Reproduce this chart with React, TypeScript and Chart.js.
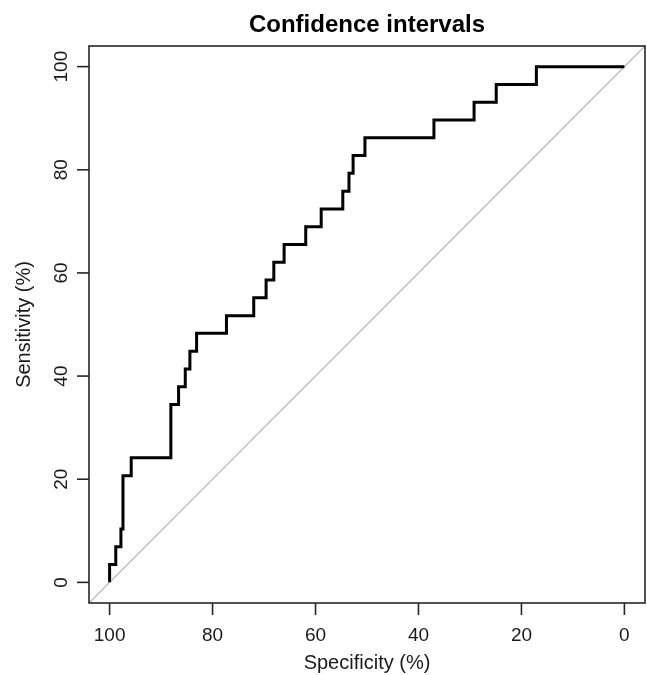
import React, { useEffect, useRef } from "react";
import { Chart, registerables } from "chart.js";

Chart.register(...registerables);

// ROC points (specificity %, sensitivity %) — drawn as a step curve
const specificity = [100, 98.8, 97.8, 97.4, 95.8, 88.1, 86.6, 85.3, 84.4, 83.1, 77.3, 72.0, 69.6, 68.1, 66.1, 61.9, 58.9, 54.7, 53.5, 52.7, 50.4, 37.0, 29.2, 24.9, 17.1, 0];
const sensitivity = [0, 3.45, 6.9, 10.34, 20.69, 24.14, 34.48, 37.93, 41.38, 44.83, 48.28, 51.72, 55.17, 58.62, 62.07, 65.52, 68.97, 72.41, 75.86, 79.31, 82.76, 86.21, 89.66, 93.1, 96.55, 100];

// chance diagonal (spans the whole plotting box)
const diagonalX = [104, -4];
const diagonalY = [-4, 104];

const xTicks = [100, 80, 60, 40, 20, 0];
const yTicks = [0, 20, 40, 60, 80, 100];

const titleText = "Confidence intervals";
const xTitle = "Specificity (%)";
const yTitle = "Sensitivity (%)";

const FONT = '"Liberation Sans", Arial, sans-serif';

export default function App() {
  const ref = useRef<HTMLCanvasElement>(null);

  useEffect(() => {
    document.body.style.margin = "0";
    const canvas = ref.current;
    if (!canvas) return;

    const axesPlugin = {
      id: "rAxes",
      afterDraw(chart: any) {
        const { ctx, chartArea } = chart;
        const xs = chart.scales.x;
        const ys = chart.scales.y;
        const { left, right, top, bottom } = chartArea;
        ctx.save();
        ctx.strokeStyle = "#262626";
        ctx.fillStyle = "#1a1a1a";
        ctx.lineWidth = 1.6;
        // box
        ctx.strokeRect(left, top, right - left, bottom - top);
        // x ticks
        ctx.font = `19px ${FONT}`;
        ctx.textAlign = "center";
        ctx.textBaseline = "alphabetic";
        xTicks.forEach((v) => {
          const px = xs.getPixelForValue(v);
          ctx.beginPath();
          ctx.moveTo(px, bottom);
          ctx.lineTo(px, bottom + 12);
          ctx.stroke();
          ctx.fillText(String(v), px, 641);
        });
        // y ticks
        yTicks.forEach((v) => {
          const py = ys.getPixelForValue(v);
          ctx.beginPath();
          ctx.moveTo(left, py);
          ctx.lineTo(left - 12, py);
          ctx.stroke();
          ctx.save();
          ctx.translate(67, py);
          ctx.rotate(-Math.PI / 2);
          ctx.fillText(String(v), 0, 0);
          ctx.restore();
        });
        // axis titles
        ctx.font = `20px ${FONT}`;
        ctx.fillText(xTitle, (left + right) / 2, 669);
        ctx.save();
        ctx.translate(30, (top + bottom) / 2);
        ctx.rotate(-Math.PI / 2);
        ctx.fillText(yTitle, 0, 0);
        ctx.restore();
        // main title
        ctx.font = `bold 24px ${FONT}`;
        ctx.fillStyle = "#000";
        ctx.fillText(titleText, (left + right) / 2, 32);
        ctx.restore();
      },
    };

    const chart = new Chart(canvas, {
      type: "line",
      data: {
        datasets: [
          {
            label: "ROC",
            data: specificity.map((s, i) => ({ x: s, y: sensitivity[i] })),
            borderColor: "#000",
            borderWidth: 3,
            pointRadius: 0,
            stepped: "after",
            fill: false,
            order: 0,
          },
          {
            label: "diagonal",
            data: diagonalX.map((x, i) => ({ x, y: diagonalY[i] })),
            borderColor: "#bdbdbd",
            borderWidth: 1.4,
            pointRadius: 0,
            fill: false,
            order: 1,
          },
        ],
      },
      options: {
        animation: false,
        responsive: false,
        devicePixelRatio: 1,
        parsing: false as any,
        layout: { padding: { left: 89, right: 2, top: 46, bottom: 72 } },
        scales: {
          x: { type: "linear", min: -4, max: 104, reverse: true, display: false },
          y: { type: "linear", min: -4, max: 104, display: false },
        },
        plugins: {
          legend: { display: false },
          tooltip: { enabled: false },
          title: { display: false },
        },
      },
      plugins: [axesPlugin],
    });
    return () => chart.destroy();
  }, []);

  return (
    <div style={{ width: 647, height: 675, background: "#fff" }}>
      <canvas ref={ref} width={647} height={675} style={{ display: "block" }} />
    </div>
  );
}
